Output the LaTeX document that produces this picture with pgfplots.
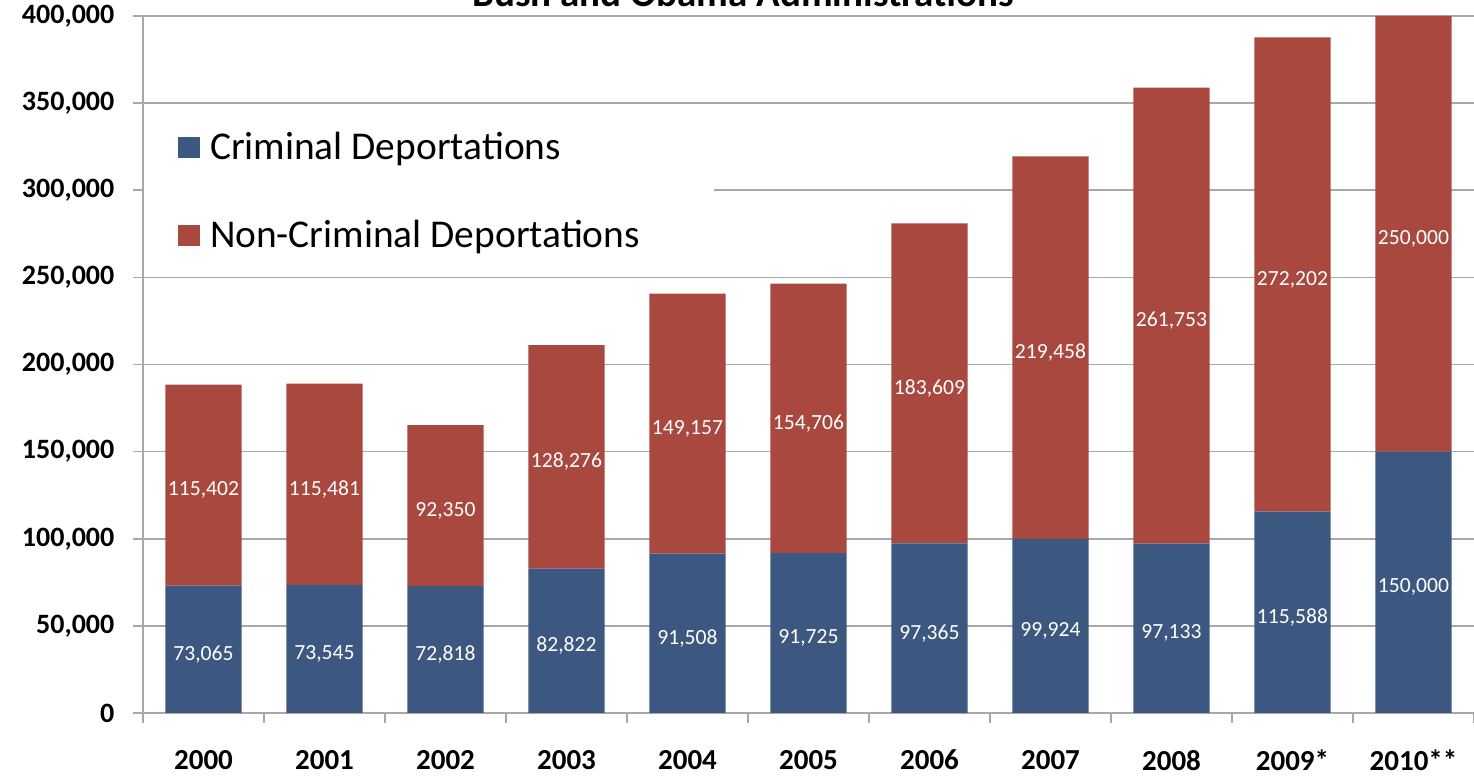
\documentclass[border=0pt]{standalone}
\usepackage{pgfplots}
\pgfplotsset{compat=1.18}
\usepackage{pgfplotstable}
\usepackage{fontspec}
\setmainfont{Carlito}
\usetikzlibrary{calc}

\definecolor{crimblue}{HTML}{3D5880}
\definecolor{noncred}{HTML}{A8483F}
\definecolor{gridgray}{HTML}{A8A8A8}

% deportations per fiscal year
\pgfplotstableread{
x crim noncrim
0 73065 115402
1 73545 115481
2 72818 92350
3 82822 128276
4 91508 149157
5 91725 154706
6 97365 183609
7 99924 219458
8 97133 261753
9 115588 272202
10 150000 250000
}\deport

\begin{document}
\begin{tikzpicture}
\begin{axis}[
  scale only axis, width=665.5pt, height=348.5pt,
  ybar stacked, bar width=0.63,
  xmin=-0.5, xmax=10.5, ymin=0, ymax=400000,
  xtick={0,...,10},
  xticklabels={2000,2001,2002,2003,2004,2005,2006,2007,2008,2009*,2010**},
  major x tick style={draw=none},
  minor xtick={-0.5,0.5,...,10.5},
  ytick={0,50000,...,400000},
  scaled y ticks=false,
  axis x line*=bottom, axis y line*=left,
  axis line style={gridgray, line width=0.8pt, -},
  tick style={gridgray, line width=0.8pt},
  tick align=outside, major tick length=5pt, minor tick length=5pt,
  ymajorgrids, grid style={gridgray, line width=0.8pt},
  /pgf/number format/.cd, fixed, precision=0, 1000 sep={,}, assume math mode=true,
  /pgfplots/.cd,
  xticklabel style={font=\fontsize{14.5}{17}\selectfont\bfseries, yshift=-10pt},
  yticklabel style={font=\fontsize{14}{17}\selectfont\bfseries, xshift=-5.8pt},
  point meta=explicit,
  nodes near coords={\pgfmathprintnumber[fixed, precision=0, 1000 sep={,}, assume math mode=true]{\pgfplotspointmeta}},
  every node near coord/.append style={font=\fontsize{10.8}{12}\selectfont,
    text=white, anchor=center, yshift=-2.5pt},
  legend image code/.code={\fill[#1] (0pt,-5.25pt) rectangle (11pt,5.25pt);
    \path (14pt,0pt);},
  legend style={at={(0.026,0.840)}, anchor=north west, draw=none, fill=none,
    font=\fontsize{19.7}{22}\selectfont, row sep=25pt, inner sep=0pt},
  legend cell align=left,
  clip=true,
]
\fill[white] (rel axis cs:0.001,0.633) rectangle (rel axis cs:0.429,0.862);
\addplot[fill=crimblue, draw=none] table[x=x, y=crim, meta=crim] {\deport};
\addplot[fill=noncred, draw=none] table[x=x, y=noncrim, meta=noncrim] {\deport};
\legend{Criminal Deportations, Non-Criminal Deportations}
\coordinate (bl) at (rel axis cs:0,0);
\coordinate (tr) at (rel axis cs:1,1);
\coordinate (tt) at (rel axis cs:0.4508,1);
\end{axis}
\node[anchor=base, font=\fontsize{19.5}{23}\selectfont\bfseries, inner sep=0pt]
  at ($(tt)+(0,4.5pt)$) {Bush and Obama Administrations};
\pgfresetboundingbox
\useasboundingbox ($(bl)+(-71.5pt,-31.5pt)$) rectangle ($(tr)+(0pt,8pt)$);
\end{tikzpicture}
\end{document}
